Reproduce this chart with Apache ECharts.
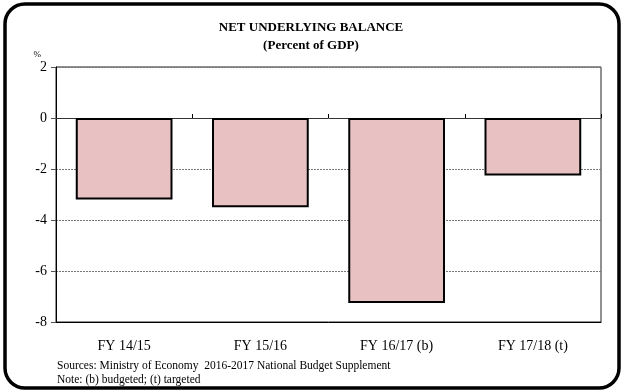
<!DOCTYPE html>
<html>
<head>
<meta charset="utf-8">
<script src="https://cdn.jsdelivr.net/npm/echarts@6/dist/echarts.min.js"></script>
<style>
  html, body { margin: 0; padding: 0; background: #fff; }
  #chart { width: 622px; height: 391px; }
</style>
</head>
<body>
<div id="chart"></div>
<script>
// Net underlying balance, percent of GDP, by fiscal year
const categories = ['FY 14/15', 'FY 15/16', 'FY 16/17 (b)', 'FY 17/18 (t)'];
const balance = [-3.2, -3.5, -7.25, -2.25];
const yTicks = { min: -8, max: 2, interval: 2 };
const titleLines = ['NET UNDERLYING BALANCE', '(Percent of GDP)'];
const notes = [
  'Sources: Ministry of Economy  2016-2017 National Budget Supplement',
  'Note: (b) budgeted; (t) targeted'
];

const serif = '"Liberation Serif", "Times New Roman", serif';
const chart = echarts.init(document.getElementById('chart'), null, { renderer: 'canvas' });

chart.setOption({
  animation: false,
  backgroundColor: '#ffffff',
  textStyle: { fontFamily: serif, color: '#000' },
  title: {
    text: titleLines.join('\n'),
    left: 'center',
    top: 14,
    textStyle: { fontFamily: serif, fontSize: 13, fontWeight: 'bold', color: '#000', lineHeight: 18 }
  },
  grid: {
    left: 56, right: 21, top: 67, bottom: 69,
    show: true,
    borderColor: '#222',
    borderWidth: 1,
    backgroundColor: 'transparent'
  },
  xAxis: [
    {
      type: 'category',
      data: categories,
      position: 'bottom',
      axisLine: { onZero: false, lineStyle: { color: '#000', width: 1 } },
      axisTick: { show: false },
      axisLabel: { fontFamily: serif, fontSize: 14, color: '#000', margin: 17 }
    },
    {
      // zero line with small category dividers
      type: 'category',
      data: categories,
      position: 'top',
      axisLine: { onZero: true, lineStyle: { color: '#333', width: 1 } },
      axisTick: { show: true, length: 4, lineStyle: { color: '#000' } },
      axisLabel: { show: false }
    }
  ],
  yAxis: {
    type: 'value',
    min: yTicks.min,
    max: yTicks.max,
    interval: yTicks.interval,
    name: '%',
    nameLocation: 'end',
    nameGap: 8,
    nameTextStyle: { fontFamily: serif, fontSize: 9, color: '#000', align: 'right', padding: [0, 15, 0, 0] },
    axisLine: { show: true, lineStyle: { color: '#000', width: 1 } },
    axisTick: { show: true, length: 5, lineStyle: { color: '#555' } },
    axisLabel: { fontFamily: serif, fontSize: 14, color: '#000', margin: 9 },
    splitLine: { show: true, lineStyle: { color: '#777', type: [2, 1], width: 1 } }
  },
  series: [{
    type: 'bar',
    data: balance,
    xAxisIndex: 0,
    barCategoryGap: '29%',
    itemStyle: { color: '#e8c2c3', borderColor: '#000', borderWidth: 2 }
  }],
  graphic: [
    {
      type: 'rect',
      shape: { x: 5, y: 4, width: 614, height: 384, r: 20 },
      style: { fill: 'none', stroke: '#000', lineWidth: 3.5 },
      silent: true,
      z: 100
    },
    {
      type: 'text',
      left: 57, top: 360,
      style: { text: notes[0], font: '11.5px ' + serif, fill: '#000' }
    },
    {
      type: 'text',
      left: 57, top: 374,
      style: { text: notes[1], font: '11.5px ' + serif, fill: '#000' }
    }
  ]
});
</script>
</body>
</html>
